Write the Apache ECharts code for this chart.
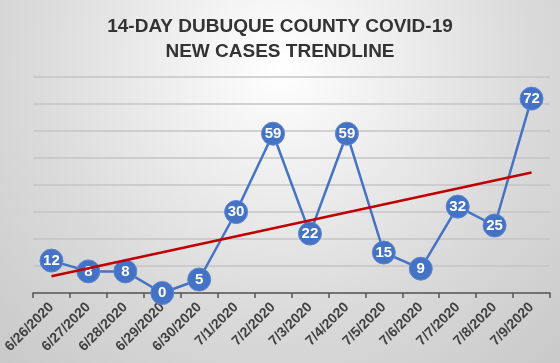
<!DOCTYPE html>
<html>
<head>
<meta charset="utf-8">
<script src="https://cdn.jsdelivr.net/npm/echarts@6/dist/echarts.min.js"></script>
<style>
  html, body { margin: 0; padding: 0; }
  #chart { width: 560px; height: 363px; }
</style>
</head>
<body>
<div id="chart"></div>
<script>
const days = ['6/26/2020', '6/27/2020', '6/28/2020', '6/29/2020', '6/30/2020', '7/1/2020', '7/2/2020',
  '7/3/2020', '7/4/2020', '7/5/2020', '7/6/2020', '7/7/2020', '7/8/2020', '7/9/2020']
const newCases = [12, 8, 8, 0, 5, 30, 59, 22, 59, 15, 9, 32, 25, 72]
// trendline ends (first and last day)
const trendEnds = [6.2, 44.6]

const chart = echarts.init(document.getElementById('chart'))

const option = {
  animation: false,
  backgroundColor: {
    type: 'radial',
    x: 0.5,
    y: 0.18,
    r: 1.15,
    colorStops: [
      { offset: 0, color: '#ffffff' },
      { offset: 0.6, color: '#dadada' },
      { offset: 1, color: '#c8c8c8' }
    ]
  },
  title: {
    text: '14-DAY DUBUQUE COUNTY COVID-19\nNEW CASES TRENDLINE',
    left: 'center',
    top: 9,
    textStyle: {
      fontFamily: 'Liberation Sans',
      fontSize: 19,
      fontWeight: 'bold',
      color: '#333333',
      lineHeight: 25
    }
  },
  grid: {
    left: 33,
    right: 10,
    top: 77,
    bottom: 70
  },
  xAxis: {
    type: 'category',
    data: days,
    boundaryGap: true,
    axisLine: { lineStyle: { color: '#555555', width: 1.5 } },
    axisTick: { show: true, length: 5, lineStyle: { color: '#555555', width: 1.5 } },
    axisLabel: {
      rotate: 45,
      margin: 12,
      interval: 0,
      fontFamily: 'Liberation Sans',
      fontSize: 14,
      fontWeight: 'bold',
      color: '#404040'
    }
  },
  yAxis: {
    type: 'value',
    min: 0,
    max: 80,
    interval: 10,
    axisLabel: { show: false },
    axisLine: { show: false },
    axisTick: { show: false },
    splitLine: { lineStyle: { color: '#c4c4c4', width: 1.5 } }
  },
  series: [
    {
      name: 'New cases',
      type: 'line',
      data: newCases,
      z: 2,
      symbol: 'circle',
      symbolSize: 23,
      lineStyle: { color: '#4472c4', width: 2.5 },
      itemStyle: { color: '#4472c4', borderColor: '#5f87d0', borderWidth: 1 },
      label: {
        show: true,
        position: 'inside',
        color: '#ffffff',
        fontFamily: 'Liberation Sans',
        fontSize: 15,
        fontWeight: 'bold'
      }
    },
    {
      name: 'Trend',
      type: 'line',
      data: [[0, trendEnds[0]], [days.length - 1, trendEnds[1]]],
      z: 3,
      symbol: 'none',
      lineStyle: { color: '#c00000', width: 2.5 }
    }
  ]
}

chart.setOption(option)
</script>
</body>
</html>
